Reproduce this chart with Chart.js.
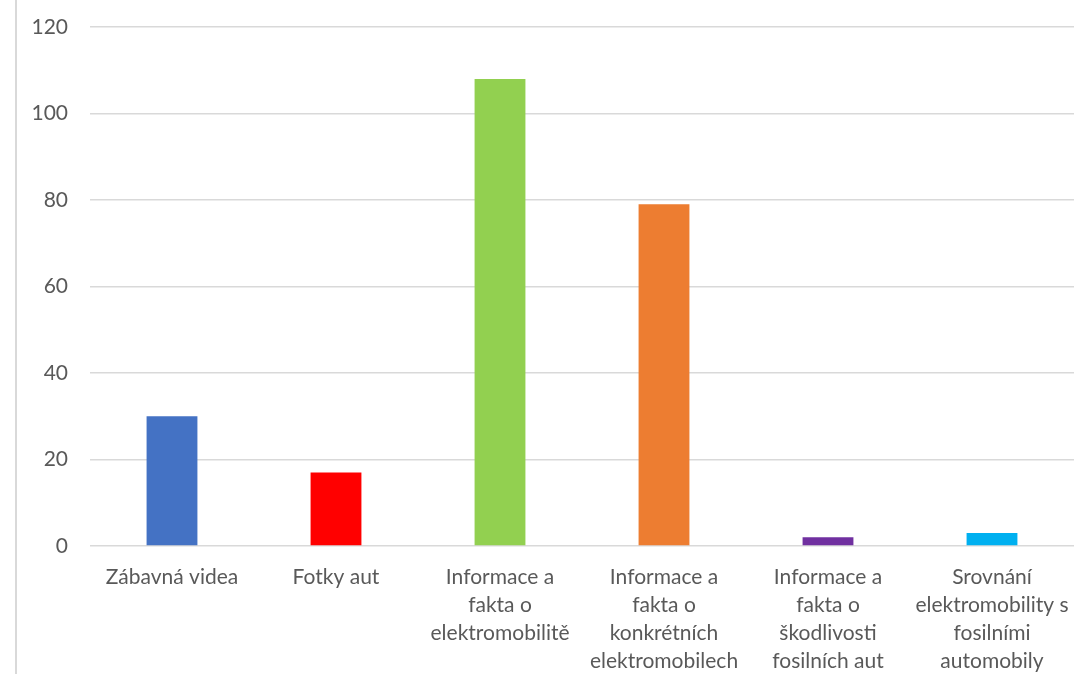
<!DOCTYPE html>
<html>
<head>
    <title>Obsah</title>
    <script src="https://cdn.jsdelivr.net/npm/chart.js@4"></script>
    <style>
        body { margin: 0; background: #fff; }
        #wrap { position: relative; width: 1082px; height: 674px; }
        #edge { position: absolute; left: 15px; top: 0; width: 2px; height: 674px; background: #d9d9d9; }
    </style>
</head>
<body>
    <div id="wrap">
        <div id="edge"></div>
        <canvas id="chartcanvas" width="1082" height="674"></canvas>
    </div>

    <script>
        const categories = [
            ['Zábavná videa'],
            ['Fotky aut'],
            ['Informace a', 'fakta o', 'elektromobilitě'],
            ['Informace a', 'fakta o', 'konkrétních', 'elektromobilech'],
            ['Informace a', 'fakta o', 'škodlivosti', 'fosilních aut'],
            ['Srovnání', 'elektromobility s', 'fosilními', 'automobily']
        ];
        const counts = [30, 17, 108, 79, 2, 3];
        const barColors = ['#4472c4', '#ff0000', '#92d050', '#ed7d31', '#7030a0', '#00b0f0'];
        const yMin = 0, yMax = 120, yStep = 20;

        const ctx = document.getElementById('chartcanvas');
        var chart = new Chart(ctx, {
            type: 'bar',
            data: {
                labels: categories,
                datasets: [{
                    data: counts,
                    backgroundColor: barColors,
                    borderWidth: 0,
                    barPercentage: 0.31,
                    categoryPercentage: 1
                }]
            },
            options: {
                responsive: false,
                animation: false,
                layout: { padding: { top: 27, right: 8, left: 0, bottom: 0 } },
                plugins: { legend: { display: false }, tooltip: { enabled: false } },
                scales: {
                    y: {
                        min: yMin,
                        max: yMax,
                        ticks: { stepSize: yStep, color: '#595959', font: { family: 'Lato', size: 21 }, padding: 22 },
                        grid: { color: '#d9d9d9', lineWidth: 1.5, drawTicks: false },
                        border: { display: false },
                        afterFit: function (scale) {
                            // fixed axis width, and keep the tick padding from pushing the plot down
                            scale.width = 90;
                            scale.paddingTop = 0;
                            scale.paddingBottom = 0;
                        }
                    },
                    x: {
                        ticks: { color: '#595959', font: { family: 'Lato', size: 21, lineHeight: 1.33 }, padding: 17, maxRotation: 0, autoSkip: false },
                        grid: { display: false, drawTicks: false },
                        border: { display: false },
                        afterFit: function (scale) {
                            scale.height = 128;
                            scale.paddingLeft = 0;
                            scale.paddingRight = 0;
                        }
                    }
                }
            }
        });
    </script>
</body>
</html>
